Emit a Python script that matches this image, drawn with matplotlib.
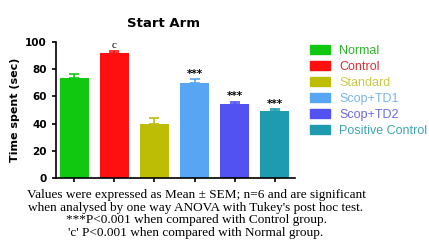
import matplotlib
matplotlib.use("Agg")
import matplotlib.pyplot as plt
from matplotlib.patches import Patch

groups = ["Normal", "Control", "Standard", "Scop+TD1", "Scop+TD2", "Positive Control"]
means = [73.5, 91.8, 40.0, 69.8, 54.4, 49.5]
sems = [3.0, 1.6, 4.2, 3.0, 1.6, 1.0]
marks = ["", "c", "", "***", "***", "***"]
colors = ["#11c811", "#ff1010", "#bdbd05", "#56a6f4", "#5252f2", "#1f9bb0"]
text_colors = ["#2db52d", "#d93030", "#c9c94a", "#7ab4ea", "#6a6ae6", "#3ea3b3"]
caption = ["Values were expressed as Mean \u00b1 SEM; n=6 and are significant",
           "when analysed by one way ANOVA with Tukey's post hoc test.",
           "***P<0.001 when compared with Control group.",
           "'c' P<0.001 when compared with Normal group."]

fig = plt.figure(figsize=(4.29, 2.42), dpi=100)
ax = fig.add_axes([0.1305, 0.2645, 0.557, 0.562])

x = list(range(len(groups)))
ax.bar(x, means, width=0.72, color=colors)
for i in x:
    ax.errorbar(i, means[i], yerr=[[0], [sems[i]]], fmt="none",
                ecolor=colors[i], elinewidth=1.2, capsize=3.5, capthick=1.2)
for i, m in enumerate(marks):
    if m == "c":
        ax.text(i, means[i] + sems[i] + 0.5, m, ha="center", va="bottom",
                fontsize=8, family="Liberation Serif")
    elif m:
        ax.text(i, means[i] + sems[i] + 0.3, m, ha="center", va="bottom",
                fontsize=7.5, fontweight="bold")

ax.set_xlim(-0.45, 5.5)
ax.set_ylim(0, 100)
ax.set_yticks([0, 20, 40, 60, 80, 100])
ax.set_xticks(x)
ax.set_xticklabels([])
ax.tick_params(axis="both", labelsize=7.5, width=1.2, length=3)
for lab in ax.get_yticklabels():
    lab.set_fontweight("bold")
for s in ["top", "right"]:
    ax.spines[s].set_visible(False)
for s in ["left", "bottom"]:
    ax.spines[s].set_linewidth(1.2)
ax.set_ylabel("Time spent (sec)", fontsize=8, fontweight="bold")
ax.set_title("Start Arm", fontsize=9.5, fontweight="bold", pad=11, x=0.45)

handles = [Patch(color=c) for c in colors]
leg = fig.legend(handles, groups, loc="upper left", bbox_to_anchor=(0.7226, 0.815),
                 frameon=False, borderpad=0, borderaxespad=0,
                 prop={"family": "Liberation Sans", "size": 9},
                 handlelength=1.6, handleheight=0.8,
                 labelspacing=0.31, handletextpad=0.72)
for t, c in zip(leg.get_texts(), text_colors):
    t.set_color(c)

for k, line in enumerate(caption):
    fig.text(0.457, 0.194 - k * 0.0525, line, ha="center", va="center",
             fontsize=9.5, family="Liberation Serif")

fig.savefig("out.png", dpi=100)
